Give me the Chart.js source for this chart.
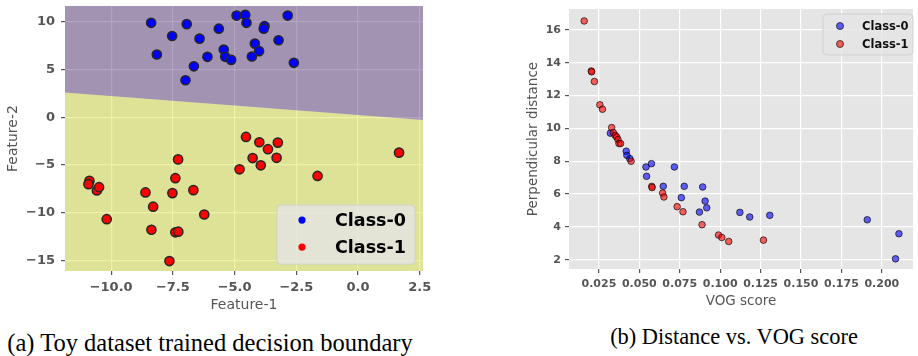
<!DOCTYPE html>
<html>
<head>
<meta charset="utf-8">
<script src="https://cdn.jsdelivr.net/npm/chart.js@4.4.1/dist/chart.umd.min.js"></script>
<style>
  body { margin: 0; background: #fff; width: 918px; height: 356px; position: relative; overflow: hidden; }
  #left { position: absolute; left: 0; top: 0; }
  #right { position: absolute; left: 500px; top: 0; }
  .cap { position: absolute; font-family: 'Liberation Serif', 'Times New Roman', serif; color: #000;
         white-space: nowrap; line-height: 26px; transform: translateX(-50%); }
</style>
</head>
<body>
<canvas id="left" width="440" height="315"></canvas>
<canvas id="right" width="418" height="315"></canvas>
<div class="cap" style="left:210px; top:330px; font-size:24.5px">(a) Toy dataset trained decision boundary</div>
<div class="cap" style="left:734px; top:324px; font-size:22.4px">(b) Distance vs. VOG score</div>
<script>
// ---- (a) toy dataset ----
const class0X = [-8.38, -6.94, -7.53, -6.42, -5.64, -4.92, -4.57, -4.52, -3.79, -3.82, -2.85, -8.15, -6.10, -6.65, -6.99, -5.44, -5.38, -5.14, -4.18, -4.01, -4.30, -3.22, -2.60];
const class0Y = [9.90, 9.76, 8.52, 8.24, 9.28, 10.66, 10.73, 9.90, 9.55, 9.28, 10.66, 6.58, 6.34, 5.34, 3.88, 7.10, 6.34, 6.02, 7.72, 6.93, 6.37, 8.07, 5.71];
const class1X = [-10.88, -10.92, -10.58, -10.49, -10.18, -8.61, -8.30, -8.37, -7.64, -7.52, -7.40, -7.29, -7.40, -7.28, -6.67, -6.23, -4.80, -4.54, -4.27, -4.00, -3.94, -3.65, -3.25, -3.30, -1.64, 1.66];
const class1Y = [-6.66, -7.00, -7.66, -7.32, -10.67, -7.87, -9.36, -11.78, -15.06, -7.94, -6.38, -4.41, -12.05, -11.98, -7.63, -10.18, -5.45, -2.06, -4.27, -2.61, -5.03, -3.34, -2.65, -4.24, -6.14, -3.70];
// decision boundary (line across the plot)
const boundaryX = [-11.87, 2.63];
const boundaryY = [2.6, -0.27];
const featTicksX = [-10, -7.5, -5, -2.5, 0, 2.5];
const featTicksY = [-15, -10, -5, 0, 5, 10];

// ---- (b) distance vs VOG ----
const vog0  = [0.0321, 0.0419, 0.0423, 0.0441, 0.0541, 0.0575, 0.0545, 0.0717, 0.0648, 0.0778, 0.0892, 0.0760, 0.0907, 0.0917, 0.0872, 0.1122, 0.1183, 0.1307, 0.1910, 0.2106, 0.2085];
const dist0 = [9.71, 8.61, 8.36, 8.16, 7.65, 7.85, 7.08, 7.65, 6.47, 6.47, 6.43, 5.78, 5.57, 5.16, 4.90, 4.88, 4.60, 4.70, 4.43, 3.58, 2.05];
const vog1  = [0.0159, 0.0203, 0.0205, 0.0222, 0.0256, 0.0272, 0.0329, 0.0339, 0.0350, 0.0360, 0.0368, 0.0374, 0.0384, 0.0449, 0.0577, 0.0579, 0.0644, 0.0652, 0.0734, 0.0770, 0.0888, 0.0990, 0.1010, 0.1053, 0.1268];
const dist1 = [16.55, 13.50, 13.45, 12.86, 11.44, 11.17, 10.05, 9.75, 9.58, 9.48, 9.32, 9.08, 9.08, 8.00, 6.47, 6.39, 6.06, 5.82, 5.23, 4.92, 4.13, 3.50, 3.35, 3.11, 3.19];
const vogTicks = [0.025, 0.05, 0.075, 0.1, 0.125, 0.15, 0.175, 0.2];
const distTicks = [2, 4, 6, 8, 10, 12, 14, 16];

Chart.defaults.font.family = "'DejaVu Sans', sans-serif";

const pts = (xs, ys) => xs.map((x, i) => ({ x: x, y: ys[i] }));
const minus = s => String(s).replace('-', '\u2212');

// grey panel behind the grid
const panelBg = {
  id: 'panelBg',
  beforeDraw(chart) {
    const { ctx, chartArea: a } = chart;
    ctx.save();
    ctx.fillStyle = '#e5e5e5';
    ctx.fillRect(a.left, a.top, a.right - a.left, a.bottom - a.top);
    ctx.restore();
  }
};

// matplotlib-like legend box drawn inside the axes
const boxLegend = {
  id: 'boxLegend',
  afterDraw(chart, args, o) {
    if (!o || !o.width) return;
    const { ctx, chartArea: a } = chart;
    const x0 = a.left + o.x, y0 = a.top + o.y;
    ctx.save();
    ctx.beginPath();
    ctx.roundRect(x0, y0, o.width, o.height, 4);
    ctx.fillStyle = 'rgba(229,229,229,0.8)';
    ctx.fill();
    ctx.strokeStyle = 'rgba(204,204,204,0.8)';
    ctx.lineWidth = 1;
    ctx.stroke();
    const items = chart.data.datasets.filter(d => d.label);
    items.forEach((d, i) => {
      const cy = y0 + o.rowTop + i * o.rowGap;
      ctx.beginPath();
      ctx.arc(x0 + o.markerX, cy, o.markerR, 0, Math.PI * 2);
      ctx.fillStyle = d.backgroundColor;
      ctx.fill();
      if (o.markerEdge) {
        ctx.strokeStyle = d.borderColor;
        ctx.lineWidth = 1;
        ctx.stroke();
      }
      ctx.fillStyle = o.color;
      ctx.font = 'bold ' + o.fontSize + "px 'DejaVu Sans'";
      ctx.textBaseline = 'middle';
      ctx.textAlign = 'left';
      ctx.fillText(d.label, x0 + o.textX, cy + 1);
    });
    ctx.restore();
  }
};

function axis(min, max, ticks, fmt, fontSize, pad, size, isX, title, titleSize, titlePad) {
  return {
    type: 'linear', min: min, max: max,
    afterBuildTicks: s => { s.ticks = ticks.map(v => ({ value: v })); },
    afterFit: s => {
      // fixed box sizes, no extra room for overhanging labels
      if (isX) { s.height = size; s.paddingLeft = 0; s.paddingRight = 0; }
      else { s.width = size; s.paddingTop = 0; s.paddingBottom = 0; }
    },
    ticks: { callback: fmt, color: '#555', font: { size: fontSize, weight: 'bold' }, padding: pad, maxRotation: 0, autoSkip: false },
    grid: { color: '#ffffff', lineWidth: 1.2, tickColor: '#555', tickLength: 4 },
    border: { display: false },
    title: { display: true, text: title, color: '#555', font: { size: titleSize }, padding: titlePad }
  };
}

new Chart(document.getElementById('left'), {
  data: {
    datasets: [
      { type: 'line', data: pts(boundaryX, boundaryY), fill: 'start', backgroundColor: 'rgba(209,222,32,0.4)', borderWidth: 0, pointRadius: 0, order: 6 },
      { type: 'line', data: pts(boundaryX, boundaryY), fill: 'end', backgroundColor: 'rgba(64,24,106,0.4)', borderWidth: 0, pointRadius: 0, order: 5 },
      { type: 'scatter', label: 'Class-0', data: pts(class0X, class0Y), backgroundColor: '#0000ff', borderColor: '#262626', borderWidth: 1.5, pointRadius: 4.6, order: 1 },
      { type: 'scatter', label: 'Class-1', data: pts(class1X, class1Y), backgroundColor: '#ff0000', borderColor: '#262626', borderWidth: 1.5, pointRadius: 4.6, order: 0 }
    ]
  },
  options: {
    responsive: false, animation: false, devicePixelRatio: 1,
    layout: { padding: { left: 0, right: 17, top: 5, bottom: 0 } },
    plugins: {
      legend: { display: false }, tooltip: { enabled: false },
      boxLegend: { x: 212, y: 199, width: 138, height: 59, rowTop: 15, rowGap: 27, markerX: 25, markerR: 3.6, textX: 58,
                   fontSize: 17.5, color: '#000', markerEdge: false }
    },
    scales: {
      x: axis(-11.87, 2.63, featTicksX, v => minus(v.toFixed(1)), 13, 5, 44, true, 'Feature-1', 14, { top: 0, bottom: 1 }),
      y: axis(-16.1, 11.65, featTicksY, v => minus(v), 13, 6, 65, false, 'Feature-2', 14, { top: 5, bottom: 0 })
    }
  },
  plugins: [panelBg, boxLegend]
});

new Chart(document.getElementById('right'), {
  type: 'scatter',
  data: {
    datasets: [
      { label: 'Class-0', data: pts(vog0, dist0), backgroundColor: 'rgba(0,0,255,0.6)', borderColor: 'rgba(0,0,0,0.65)', borderWidth: 1, pointRadius: 3.3, order: 1 },
      { label: 'Class-1', data: pts(vog1, dist1), backgroundColor: 'rgba(255,0,0,0.6)', borderColor: 'rgba(0,0,0,0.65)', borderWidth: 1, pointRadius: 3.3, order: 0 }
    ]
  },
  options: {
    responsive: false, animation: false, devicePixelRatio: 1,
    layout: { padding: { left: 0, right: 0, top: 9, bottom: 0 } },
    plugins: {
      legend: { display: false }, tooltip: { enabled: false },
      boxLegend: { x: 254, y: 5, width: 90, height: 41, rowTop: 12, rowGap: 18, markerX: 17, markerR: 3.5, textX: 39,
                   fontSize: 11.5, color: '#111', markerEdge: true }
    },
    scales: {
      x: axis(0.0065, 0.2193, vogTicks, v => v.toFixed(3), 11, 5, 46, true, 'VOG score', 13.5, { top: 0, bottom: 5 }),
      y: axis(1.43, 17.28, distTicks, v => v, 11, 4, 69, false, 'Perpendicular distance', 13.5, { top: 25, bottom: 0 })
    }
  },
  plugins: [panelBg, boxLegend]
});
</script>
</body>
</html>
